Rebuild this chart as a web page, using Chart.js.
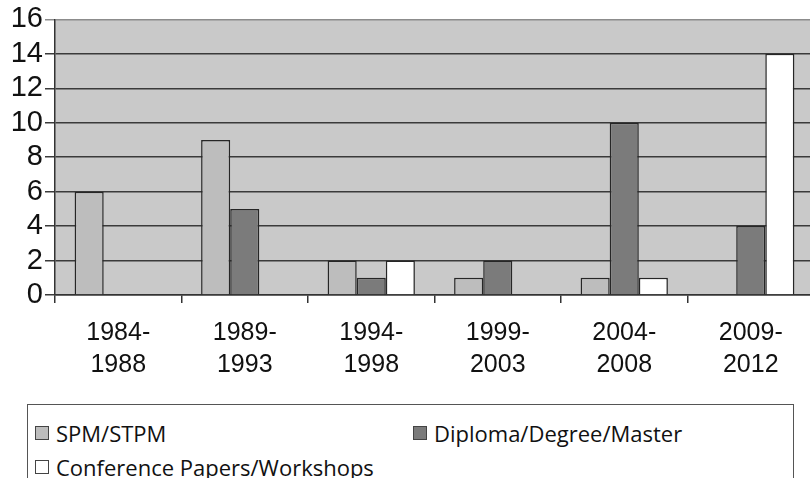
<!DOCTYPE html>
<html>
<head>
<meta charset="utf-8">
<script src="https://cdn.jsdelivr.net/npm/chart.js@4.4.1/dist/chart.umd.min.js"></script>
<style>
    html, body { margin: 0; padding: 0; background: #fff; overflow: hidden; width: 810px; height: 478px; }
    #wrap { position: absolute; left: 0; top: 0; width: 814px; height: 400px; }
    #legend {
        position: absolute; left: 27px; top: 404px; width: 767px; height: 90px;
        border: 1.5px solid #555; box-sizing: border-box;
        font-family: "Open Sans", "Noto Sans", sans-serif; font-size: 22px; color: #111;
    }
    .item { position: absolute; display: flex; align-items: center; height: 30px; }
    .swatch { width: 12px; height: 12px; border: 1.5px solid #444; margin-right: 7px; }
</style>
</head>
<body>
<div id="wrap"><canvas id="chart"></canvas></div>
<div id="legend"></div>
<script>
(function () {
    const periods = [
        ["1984-", "1988"],
        ["1989-", "1993"],
        ["1994-", "1998"],
        ["1999-", "2003"],
        ["2004-", "2008"],
        ["2009-", "2012"]
    ];
    const spmStpm = [6, 9, 2, 1, 1, 0];
    const diplomaDegreeMaster = [0, 5, 1, 2, 10, 4];
    const conferencePapers = [0, 0, 2, 0, 1, 14];
    const seriesNames = ["SPM/STPM", "Diploma/Degree/Master", "Conference Papers/Workshops"];
    const seriesColors = ["#bdbdbd", "#7b7b7b", "#ffffff"];

    const plotBackground = {
        id: "plotBackground",
        beforeDraw(chart) {
            const area = chart.chartArea;
            const ctx = chart.ctx;
            ctx.save();
            ctx.fillStyle = "#c9c9c9";
            ctx.fillRect(area.left, area.top, area.right - area.left, area.bottom - area.top);
            ctx.restore();
        }
    };

    const values = [spmStpm, diplomaDegreeMaster, conferencePapers];

    const chart = new Chart(document.getElementById("chart").getContext("2d"), {
        type: "bar",
        data: {
            labels: periods,
            datasets: values.map((data, i) => ({
                label: seriesNames[i],
                data: data,
                backgroundColor: seriesColors[i],
                borderColor: "#262626",
                borderWidth: 1.5,
                borderSkipped: "start",
                categoryPercentage: 0.69,
                barPercentage: 1
            }))
        },
        options: {
            responsive: true,
            maintainAspectRatio: false,
            animation: false,
            layout: { padding: { top: 19, right: 0, left: 0, bottom: 0 } },
            plugins: {
                legend: { display: false },
                tooltip: { enabled: false }
            },
            scales: {
                x: {
                    afterFit(scale) { scale.height = 105; },
                    border: { display: true, color: "#333", width: 1.5 },
                    grid: {
                        offset: true,
                        drawOnChartArea: false,
                        tickLength: 8,
                        color: "#333",
                        lineWidth: 1.5
                    },
                    ticks: {
                        color: "#111",
                        padding: 14,
                        maxRotation: 0,
                        autoSkip: false,
                        font: { family: "'Liberation Sans', Arial, sans-serif", size: 25, lineHeight: 1.28 }
                    }
                },
                y: {
                    min: 0,
                    max: 16,
                    afterFit(scale) { scale.width = 55; },
                    border: { display: true, color: "#333", width: 1.5 },
                    grid: {
                        tickLength: 10,
                        color: (c) => (c.tick && c.tick.value === 16 ? "#8c8c8c" : "#3a3a3a"),
                        lineWidth: 1.5
                    },
                    ticks: {
                        stepSize: 2,
                        autoSkip: false,
                        color: "#111",
                        padding: 2,
                        font: { family: "'Liberation Sans', Arial, sans-serif", size: 29 }
                    }
                }
            }
        },
        plugins: [plotBackground]
    });

    // legend laid out like the original two-column box
    const legend = document.getElementById("legend");
    const spots = [[7, 13], [385, 13], [7, 47]];
    chart.data.datasets.forEach((ds, i) => {
        const item = document.createElement("div");
        item.className = "item";
        item.style.left = spots[i][0] + "px";
        item.style.top = spots[i][1] + "px";
        const swatch = document.createElement("span");
        swatch.className = "swatch";
        swatch.style.background = ds.backgroundColor;
        const text = document.createElement("span");
        text.textContent = ds.label;
        item.appendChild(swatch);
        item.appendChild(text);
        legend.appendChild(item);
    });
})();
</script>
</body>
</html>
